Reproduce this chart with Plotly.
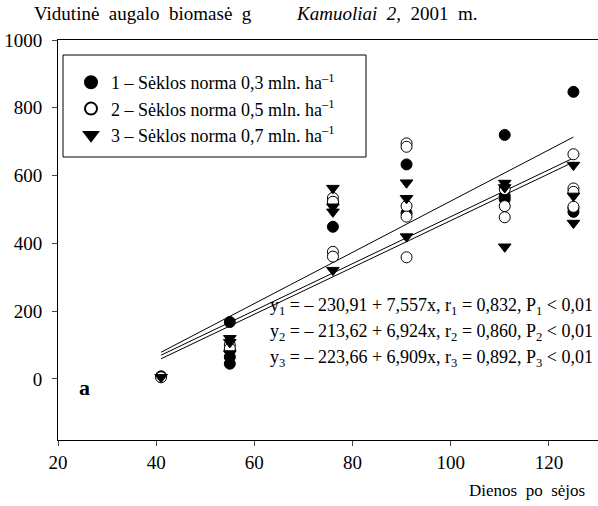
import plotly.graph_objects as go

# ---- data ----
days1 = [41, 55, 55, 55, 55, 76, 76, 91, 91, 111, 111, 111, 125, 125, 125]
bio1 = [8, 168, 85, 65, 45, 449, 520, 633, 489, 720, 540, 530, 847, 504, 493]

days2 = [41, 55, 55, 76, 76, 76, 76, 91, 91, 91, 91, 91, 111, 111, 111, 125, 125, 125, 125]
bio2 = [5, 100, 90, 534, 523, 375, 361, 695, 685, 510, 479, 359, 560, 510, 477, 663, 562, 552, 508]

days3 = [41, 55, 55, 55, 76, 76, 76, 76, 91, 91, 91, 111, 111, 111, 125, 125, 125]
bio3 = [5, 120, 108, 75, 563, 508, 493, 321, 579, 533, 420, 578, 565, 390, 631, 540, 460]

series_names = [
    "1 – Sėklos norma 0,3 mln. ha<sup>–1</sup>",
    "2 – Sėklos norma 0,5 mln. ha<sup>–1</sup>",
    "3 – Sėklos norma 0,7 mln. ha<sup>–1</sup>",
]
intercepts = [-230.91, -213.62, -223.66]
slopes = [7.557, 6.924, 6.909]
fit_range = [41, 125]

equations = [
    "y<sub>1</sub> = – 230,91 + 7,557x, r<sub>1</sub> = 0,832, P<sub>1</sub> < 0,01",
    "y<sub>2</sub> = – 213,62 + 6,924x, r<sub>2</sub> = 0,860, P<sub>2</sub> < 0,01",
    "y<sub>3</sub> = – 223,66 + 6,909x, r<sub>3</sub> = 0,892, P<sub>3</sub> < 0,01",
]

x_ticks = [20, 40, 60, 80, 100, 120]
y_ticks = [0, 200, 400, 600, 800, 1000]

NB = "\u00a0"
title_left = f"Vidutinė{NB}{NB}augalo{NB}{NB}biomasė{NB}{NB}g"
title_right = f"<i>Kamuoliai{NB}{NB}2</i>,{NB}{NB}2001{NB}{NB}m."
x_title = f"Dienos{NB}{NB}po{NB}{NB}sėjos"

FONT = "Liberation Serif"
FS = 18
W, H = 598, 506
ML, MT, MB = 58, 40, 66
PH = H - MT - MB


def px_x(p):
    return (p - ML) / (W - ML)


def px_y(p):
    return (H - MB - p) / PH


fig = go.Figure()

# regression lines
for a, b in zip(intercepts, slopes):
    fig.add_trace(go.Scatter(
        x=fit_range, y=[a + b * v for v in fit_range], mode="lines",
        line=dict(color="black", width=1), showlegend=False, hoverinfo="skip"))

styles = [
    dict(symbol="circle", color="black", size=11, line=dict(color="black", width=1)),
    dict(symbol="circle", color="white", size=11, line=dict(color="black", width=1)),
    dict(symbol="triangle-down", color="black", size=11, line=dict(color="black", width=1)),
]
for xs, ys, name, st in zip([days1, days2, days3], [bio1, bio2, bio3], series_names, styles):
    fig.add_trace(go.Scatter(x=xs, y=ys, mode="markers", name=name, marker=st))

# legend frame
fig.add_shape(type="rect", xref="paper", yref="paper",
              x0=px_x(63), x1=px_x(366), y0=px_y(157), y1=px_y(55),
              line=dict(color="black", width=1), fillcolor="white", layer="below")

fig.update_layout(
    width=W, height=H,
    margin=dict(l=ML, r=0, t=MT, b=MB),
    paper_bgcolor="white", plot_bgcolor="white",
    font=dict(family=FONT, size=FS, color="black"),
    showlegend=True,
    legend=dict(x=px_x(71), y=px_y(64), xanchor="left", yanchor="top",
                borderwidth=0, bgcolor="rgba(0,0,0,0)",
                font=dict(family=FONT, size=FS), itemsizing="constant"),
    xaxis=dict(range=[20, 130], tickvals=x_ticks, ticks="outside", ticklen=5,
               showline=True, linecolor="black", linewidth=1, mirror=True,
               showgrid=False, zeroline=False, tickfont=dict(size=19)),
    yaxis=dict(range=[-180, 1000], tickvals=y_ticks, ticks="outside", ticklen=5,
               ticklabelstandoff=6,
               showline=True, linecolor="black", linewidth=1,
               showgrid=False, zeroline=False, tickfont=dict(size=19)),
)

for i, eq in enumerate(equations):
    fig.add_annotation(xref="paper", yref="paper", x=px_x(595), y=px_y(306 + 26 * i),
                       xanchor="right", yanchor="middle", text=eq, showarrow=False,
                       font=dict(family=FONT, size=FS))

fig.add_annotation(xref="paper", yref="paper", x=px_x(77), y=px_y(387),
                   xanchor="left", yanchor="middle", text="<b>a</b>", showarrow=False,
                   font=dict(family=FONT, size=22))

fig.add_annotation(xref="paper", yref="paper", x=px_x(587), y=px_y(490),
                   xanchor="right", yanchor="middle", text=x_title,
                   showarrow=False, font=dict(family=FONT, size=17))

fig.add_annotation(xref="paper", yref="paper", x=px_x(32), y=px_y(13),
                   xanchor="left", yanchor="middle", align="left",
                   text=title_left, showarrow=False, font=dict(family=FONT, size=19))

fig.add_annotation(xref="paper", yref="paper", x=px_x(294), y=px_y(13),
                   xanchor="left", yanchor="middle", align="left",
                   text=title_right,
                   showarrow=False, font=dict(family=FONT, size=19))

fig.write_html("out.html", config={"displayModeBar": False},
               post_script="document.body.style.margin='0';document.body.style.overflow='hidden';")
